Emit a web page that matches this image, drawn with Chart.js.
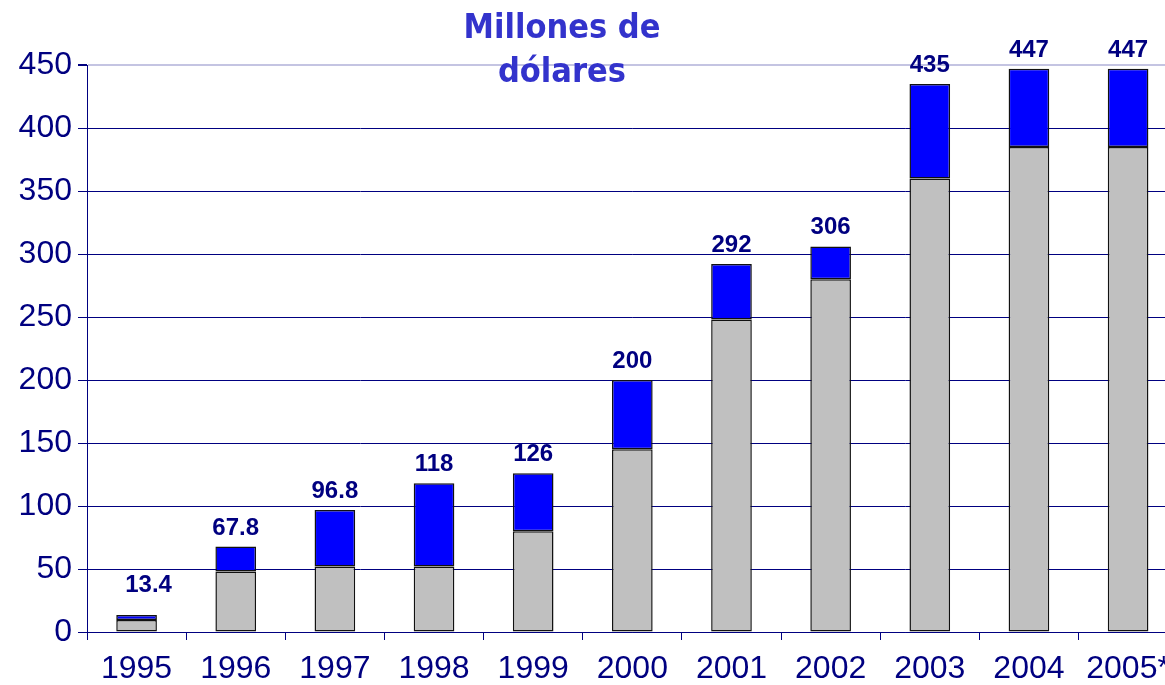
<!DOCTYPE html>
<html><head><meta charset="utf-8">
<script src="https://cdn.jsdelivr.net/npm/chart.js@4.4.0/dist/chart.umd.min.js"></script>
<style>html,body{margin:0;padding:0;overflow:hidden;background:#fff;width:1165px;height:685px}canvas{display:block}</style>
</head><body><canvas id="c" width="1180" height="685"></canvas>
<script>
const categories = ['1995','1996','1997','1998','1999','2000','2001','2002','2003','2004','2005*'];
const baseValues = [9.5, 48, 52, 52, 80, 145, 248, 280, 360, 385, 385];
const topValues  = [3.9, 19.8, 44.8, 66, 46, 55, 44, 26, 75, 62, 62];
const totalLabels = ['13.4','67.8','96.8','118','126','200','292','306','435','447','447'];
const titleLines = ['Millones de', 'dólares'];
const yMin = 0, yMax = 450, yStep = 50;

const NAVY = '#000080';

const labelPlugin = {
  id: 'totals',
  afterDatasetsDraw(chart) {
    const ctx = chart.ctx;
    const meta = chart.getDatasetMeta(1);
    const ys = chart.scales.y;
    ctx.save();
    ctx.font = 'bold 24px "Liberation Sans", Arial, sans-serif';
    ctx.fillStyle = NAVY;
    ctx.textAlign = 'center';
    ctx.textBaseline = 'alphabetic';
    meta.data.forEach((bar, i) => {
      const lifted = bar.y - 12 > ys.getPixelForValue(32);
      const y = lifted ? ys.getPixelForValue(32) : bar.y - 12;
      ctx.fillText(totalLabels[i], lifted ? bar.x + 12 : bar.x, y);
    });
    ctx.restore();
  }
};
const titlePlugin = {
  id: 'bigtitle',
  afterDraw(chart) {
    const ctx = chart.ctx;
    ctx.save();
    ctx.font = 'bold 34px "DejaVu Sans Condensed", "DejaVu Sans", sans-serif';
    ctx.fillStyle = '#3333cc';
    ctx.textAlign = 'center';
    ctx.textBaseline = 'alphabetic';
    ctx.fillText(titleLines[0], 562, 38);
    ctx.fillText(titleLines[1], 562, 82);
    ctx.restore();
  }
};

new Chart(document.getElementById('c'), {
  type: 'bar',
  data: {
    labels: categories,
    datasets: [
      { data: baseValues, backgroundColor: '#c0c0c0', borderColor: '#111', borderWidth: 1.5, borderSkipped: false,
        categoryPercentage: 1, barPercentage: 0.41 },
      { data: topValues, backgroundColor: '#0000ff', borderColor: '#111', borderWidth: 1.5, borderSkipped: false,
        categoryPercentage: 1, barPercentage: 0.41 }
    ]
  },
  options: {
    responsive: false,
    animation: false,
    layout: { padding: { top: 65, right: 2, left: 0, bottom: 0 } },
    plugins: { legend: { display: false }, tooltip: { enabled: false }, title: { display: false } },
    scales: {
      x: {
        stacked: true,
        offset: true,
        grid: { display: true, drawOnChartArea: false, drawTicks: true, tickLength: 8, color: NAVY, tickColor: NAVY, offset: true },
        border: { color: NAVY, width: 1 },
        ticks: { color: NAVY, font: { family: '"Liberation Sans", Arial, sans-serif', size: 32 }, padding: 10, maxRotation: 0, autoSkip: false },
        afterFit(s) { s.height = 53; }
      },
      y: {
        stacked: true,
        min: yMin, max: yMax,
        ticks: { stepSize: yStep, color: NAVY, font: { family: '"Liberation Sans", Arial, sans-serif', size: 32 }, padding: 6 },
        grid: { color: c => (c.tick && c.tick.value === yMax) ? '#c4c4e2' : NAVY, lineWidth: c => (c.tick && c.tick.value === yMax) ? 2 : 1, tickLength: 9, tickColor: NAVY },
        border: { color: NAVY, width: 1 },
        afterFit(s) { s.width = 87; }
      }
    }
  },
  plugins: [labelPlugin, titlePlugin]
});
</script>
</body></html>
